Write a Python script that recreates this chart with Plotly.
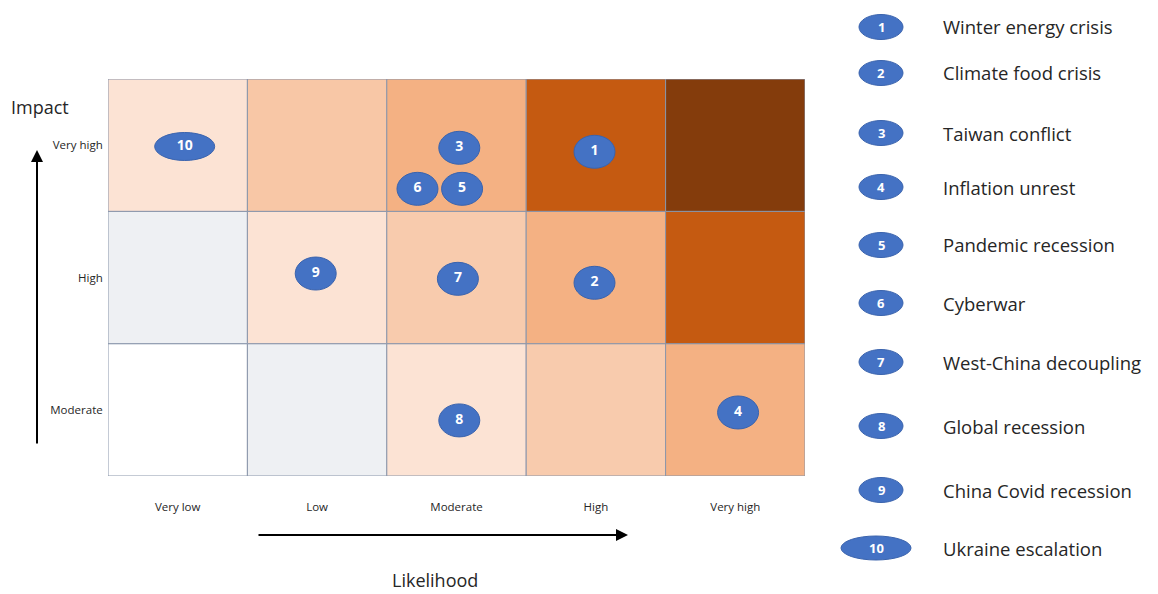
import plotly.graph_objects as go

# ---- data ----
likelihood_labels = ["Very low", "Low", "Moderate", "High", "Very high"]
impact_labels = ["Moderate", "High", "Very high"]  # bottom -> top

# cell colours, rows bottom -> top
cell_colors = [
    ["#ffffff", "#eef0f3", "#fce3d4", "#f8cbad", "#f4b183"],   # Moderate
    ["#eef0f3", "#fce3d4", "#f8cbad", "#f4b183", "#c55a11"],   # High
    ["#fce3d4", "#f8c7a6", "#f4b183", "#c55a11", "#843c0c"],   # Very high
]

risk_ids = [1, 2, 3, 4, 5, 6, 7, 8, 9, 10]
risk_names = ["Winter energy crisis", "Climate food crisis", "Taiwan conflict",
              "Inflation unrest", "Pandemic recession", "Cyberwar",
              "West-China decoupling", "Global recession", "China Covid recession",
              "Ukraine escalation"]
risk_x = [3.49, 3.49, 2.52, 4.52, 2.54, 2.22, 2.51, 2.52, 1.49, 0.55]  # likelihood
risk_y = [2.45, 1.46, 2.48, 0.48, 2.17, 2.17, 1.49, 0.42, 1.53, 2.49]  # impact

legend_y_px = [27, 73, 133, 187, 245, 303, 362, 426, 490, 548]

BLUE = "#4472c4"
FONT = "Open Sans"
W, H = 1158, 594

fig = go.Figure()

# cells
shapes = []
for r, row in enumerate(cell_colors):
    for c, col in enumerate(row):
        shapes.append(dict(type="rect", xref="x", yref="y", x0=c, x1=c + 1, y0=r, y1=r + 1,
                           fillcolor=col, line=dict(color="#8a96ab", width=1), layer="below"))

# risk ellipses on the matrix
for i, rid in enumerate(risk_ids):
    w = 60 if rid >= 10 else 41
    h = 28 if rid >= 10 else 33
    shapes.append(dict(type="circle", xref="x", yref="y", xsizemode="pixel", ysizemode="pixel",
                       xanchor=risk_x[i], yanchor=risk_y[i], x0=-w / 2, x1=w / 2, y0=-h / 2, y1=h / 2,
                       fillcolor=BLUE, line=dict(color="#3a63ad", width=1), layer="below"))

fig.add_trace(go.Scatter(x=risk_x, y=risk_y, mode="text", text=["<b>%d</b>" % r for r in risk_ids],
                         textfont=dict(color="white", size=14, family=FONT),
                         hoverinfo="skip", showlegend=False))

# legend (paper coordinates)
annotations = []
for i, rid in enumerate(risk_ids):
    yp = 1 - legend_y_px[i] / H
    if rid >= 10:
        cx, w, h = 876 / W, 70, 24
    else:
        cx, w, h = 881 / W, 44, 25
    shapes.append(dict(type="circle", xref="paper", yref="paper", xsizemode="pixel", ysizemode="pixel",
                       xanchor=cx, yanchor=yp, x0=-w / 2, x1=w / 2, y0=-h / 2, y1=h / 2,
                       fillcolor=BLUE, line=dict(color="#3a63ad", width=1)))
    annotations.append(dict(x=cx, y=yp, xref="paper", yref="paper", text="<b>%d</b>" % rid,
                            showarrow=False, xanchor="center", yanchor="middle",
                            font=dict(color="white", size=13, family=FONT)))
    annotations.append(dict(x=941 / W, y=yp, xref="paper", yref="paper", text=risk_names[i],
                            showarrow=False, xanchor="left", yanchor="middle",
                            font=dict(color="#262626", size=18.5, family=FONT)))

# axis titles and arrows
annotations.append(dict(x=40 / W, y=1 - 107 / H, xref="paper", yref="paper", text="Impact",
                        showarrow=False, xanchor="center", yanchor="middle",
                        font=dict(size=18, color="#262626", family=FONT)))
annotations.append(dict(x=435 / W, y=1 - 580 / H, xref="paper", yref="paper", text="Likelihood",
                        showarrow=False, xanchor="center", yanchor="middle",
                        font=dict(size=18, color="#262626", family=FONT)))
annotations.append(dict(x=37 / W, y=1 - 150 / H, xref="paper", yref="paper", ax=0, ay=295,
                        axref="pixel", ayref="pixel", text="", showarrow=True, arrowhead=2,
                        arrowsize=1.2, arrowwidth=2, arrowcolor="black"))
annotations.append(dict(x=628 / W, y=1 - 535 / H, xref="paper", yref="paper", ax=-371, ay=0,
                        axref="pixel", ayref="pixel", text="", showarrow=True, arrowhead=2,
                        arrowsize=1.2, arrowwidth=2, arrowcolor="black"))

fig.update_layout(
    width=W, height=H, margin=dict(l=0, r=0, t=0, b=0),
    paper_bgcolor="white", plot_bgcolor="white",
    shapes=shapes, annotations=annotations, showlegend=False,
    xaxis=dict(domain=[108 / W, 805 / W], range=[0, 5], tickvals=[0.5, 1.5, 2.5, 3.5, 4.5],
               ticktext=likelihood_labels, showgrid=False, zeroline=False, ticks="outside",
               ticklen=20, tickcolor="rgba(0,0,0,0)", tickfont=dict(size=11.5, family=FONT, color="#262626"),
               fixedrange=True),
    yaxis=dict(domain=[1 - 476 / H, 1 - 79 / H], range=[0, 3], tickvals=[0.5, 1.5, 2.5],
               ticktext=impact_labels, showgrid=False, zeroline=False, ticks="outside",
               ticklen=2, tickcolor="rgba(0,0,0,0)", tickfont=dict(size=11.5, family=FONT, color="#262626"),
               fixedrange=True),
)

fig.write_html("out.html")
